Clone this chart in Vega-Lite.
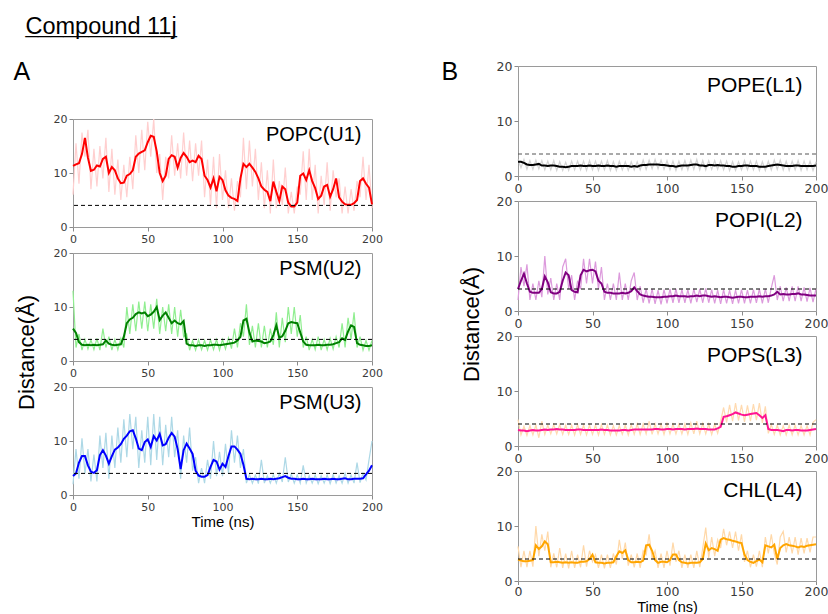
{
"$schema": "https://vega.github.io/schema/vega-lite/v6.json",
"padding": {"left": 12, "top": 14, "right": 2, "bottom": 0},
"title": {"text": "Compound 11j", "anchor": "start", "frame": "bounds", "fontSize": 23.5, "dx": 13, "offset": 20.5, "subtitle": "____________", "subtitleFontSize": 22.7, "subtitleFont": "Liberation Sans", "subtitleColor": "#000", "subtitlePadding": -23},
"config": {
  "view": {"stroke": "#9a9a9a", "strokeWidth": 1},
  "axis": {"grid": false, "domain": false, "tickColor": "#8a8a8a", "tickSize": 4, "labelColor": "#3a3a3a", "labelFont": "DejaVu Sans", "labelPadding": 2, "labelFlush": false, "labelOverlap": false, "titleFont": "Liberation Sans", "titleFontWeight": "normal", "titleColor": "#000"},
  "title": {"font": "Liberation Sans", "fontWeight": "normal", "color": "#000"}
},
"datasets": {
"U1": [{"t":0,"m":11.3,"r":6},{"t":2,"m":11.6,"r":15.5},{"t":4,"m":11.8,"r":8},{"t":6,"m":13.5,"r":17.5},{"t":8,"m":16.5,"r":13},{"t":10,"m":12.8,"r":18},{"t":12,"m":10.4,"r":7},{"t":14,"m":10.6,"r":14.5},{"t":16,"m":11.4,"r":7.5},{"t":18,"m":11.2,"r":15},{"t":20,"m":12.6,"r":9},{"t":22,"m":13,"r":16.5},{"t":24,"m":10,"r":6.5},{"t":26,"m":11.1,"r":14.5},{"t":28,"m":10.5,"r":6},{"t":30,"m":9,"r":12.5},{"t":32,"m":8.1,"r":5},{"t":34,"m":8.2,"r":11.5},{"t":36,"m":9.5,"r":5.5},{"t":38,"m":9.8,"r":13},{"t":40,"m":10.5,"r":7},{"t":42,"m":13,"r":17},{"t":44,"m":13.6,"r":10},{"t":46,"m":13.9,"r":18},{"t":48,"m":14.2,"r":10.5},{"t":50,"m":15.7,"r":19.5},{"t":52,"m":16.9,"r":13},{"t":54,"m":16.7,"r":20},{"t":56,"m":14,"r":10},{"t":58,"m":10,"r":13.5},{"t":60,"m":8.5,"r":5},{"t":62,"m":9.5,"r":13},{"t":64,"m":12.6,"r":9},{"t":66,"m":13.3,"r":17},{"t":68,"m":13,"r":9.5},{"t":70,"m":11,"r":15.5},{"t":72,"m":12.8,"r":9},{"t":74,"m":13.7,"r":17.5},{"t":76,"m":13,"r":9.5},{"t":78,"m":12,"r":16},{"t":80,"m":12.3,"r":8.5},{"t":82,"m":12,"r":15.5},{"t":84,"m":13.2,"r":9.5},{"t":86,"m":12.6,"r":16},{"t":88,"m":9.5,"r":5.5},{"t":90,"m":8.7,"r":12.5},{"t":92,"m":7.3,"r":4},{"t":94,"m":9,"r":13},{"t":96,"m":6.6,"r":3.5},{"t":98,"m":9.3,"r":13.5},{"t":100,"m":8.7,"r":5},{"t":102,"m":6.8,"r":10.5},{"t":104,"m":5.8,"r":3.5},{"t":106,"m":5.4,"r":9},{"t":108,"m":5.2,"r":3},{"t":110,"m":4.8,"r":8.5},{"t":112,"m":9,"r":5.5},{"t":114,"m":11.7,"r":16.5},{"t":116,"m":11.1,"r":7},{"t":118,"m":11.7,"r":16},{"t":120,"m":11,"r":7.5},{"t":122,"m":10.2,"r":14.5},{"t":124,"m":9,"r":5},{"t":126,"m":7.5,"r":12},{"t":128,"m":6.9,"r":3.5},{"t":130,"m":6.5,"r":10.5},{"t":132,"m":4.8,"r":2.5},{"t":134,"m":8.4,"r":12.5},{"t":136,"m":6.5,"r":3.5},{"t":138,"m":4.8,"r":8.5},{"t":140,"m":7.5,"r":4},{"t":142,"m":7,"r":11},{"t":144,"m":4.5,"r":2.5},{"t":146,"m":3.8,"r":6.5},{"t":148,"m":3.8,"r":2.5},{"t":150,"m":4.5,"r":7.5},{"t":152,"m":9.5,"r":6},{"t":154,"m":9.9,"r":14},{"t":156,"m":8.7,"r":5},{"t":158,"m":10.5,"r":14.5},{"t":160,"m":8.5,"r":5},{"t":162,"m":7.2,"r":11.5},{"t":164,"m":5.2,"r":2.5},{"t":166,"m":5.8,"r":9.5},{"t":168,"m":7.5,"r":4},{"t":170,"m":7.8,"r":12},{"t":172,"m":5.6,"r":3},{"t":174,"m":7,"r":10.5},{"t":176,"m":9,"r":5.5},{"t":178,"m":5.5,"r":9},{"t":180,"m":4.7,"r":2.5},{"t":182,"m":4.2,"r":7.5},{"t":184,"m":4.1,"r":2.5},{"t":186,"m":4.1,"r":7},{"t":188,"m":4.4,"r":3},{"t":190,"m":5,"r":8.5},{"t":192,"m":8.5,"r":5.5},{"t":194,"m":9,"r":13},{"t":196,"m":8,"r":5},{"t":198,"m":7.3,"r":11.5},{"t":200,"m":4.2,"r":3.5}],
"U2": [{"t":0,"m":6,"r":13},{"t":2,"m":5.2,"r":2.5},{"t":4,"m":3.5,"r":5},{"t":6,"m":3,"r":2},{"t":8,"m":2.9,"r":4},{"t":10,"m":3,"r":2.2},{"t":12,"m":2.9,"r":3.9},{"t":14,"m":3,"r":2.1},{"t":16,"m":2.9,"r":4.2},{"t":18,"m":3,"r":2},{"t":20,"m":3.1,"r":6},{"t":22,"m":3.8,"r":2.5},{"t":24,"m":3.2,"r":4.5},{"t":26,"m":3,"r":2},{"t":28,"m":2.9,"r":4},{"t":30,"m":3,"r":2.1},{"t":32,"m":3.1,"r":4.2},{"t":34,"m":4.5,"r":2.5},{"t":36,"m":7,"r":10},{"t":38,"m":7.7,"r":5},{"t":40,"m":8,"r":10.5},{"t":42,"m":8.7,"r":5.5},{"t":44,"m":9,"r":11},{"t":46,"m":8.8,"r":6},{"t":48,"m":9,"r":11},{"t":50,"m":8.3,"r":5.5},{"t":52,"m":8.6,"r":10.5},{"t":54,"m":9.1,"r":6},{"t":56,"m":10,"r":11.5},{"t":58,"m":7.6,"r":5},{"t":60,"m":8.4,"r":10},{"t":62,"m":9,"r":5.5},{"t":64,"m":8,"r":10.5},{"t":66,"m":7,"r":5},{"t":68,"m":7.5,"r":10},{"t":70,"m":7,"r":4.5},{"t":72,"m":6.8,"r":9.5},{"t":74,"m":7.4,"r":4.5},{"t":76,"m":3.2,"r":5},{"t":78,"m":2.9,"r":2},{"t":80,"m":2.9,"r":3.8},{"t":82,"m":2.8,"r":2},{"t":84,"m":2.9,"r":3.9},{"t":86,"m":2.9,"r":2.1},{"t":88,"m":2.8,"r":3.8},{"t":90,"m":2.9,"r":2},{"t":92,"m":2.9,"r":3.9},{"t":94,"m":3,"r":2.1},{"t":96,"m":3,"r":4},{"t":98,"m":2.9,"r":2},{"t":100,"m":3,"r":4},{"t":102,"m":3.1,"r":2.2},{"t":104,"m":3.2,"r":4.3},{"t":106,"m":3.3,"r":2.3},{"t":108,"m":3.4,"r":6},{"t":110,"m":3.8,"r":2.5},{"t":112,"m":4.5,"r":7},{"t":114,"m":7.5,"r":4.5},{"t":116,"m":7.8,"r":10.5},{"t":118,"m":5.3,"r":3},{"t":120,"m":3.6,"r":6.5},{"t":122,"m":3.8,"r":2.5},{"t":124,"m":3.7,"r":7},{"t":126,"m":3.6,"r":2.5},{"t":128,"m":3.3,"r":6.5},{"t":130,"m":3.4,"r":2.5},{"t":132,"m":3.6,"r":6},{"t":134,"m":4.8,"r":3},{"t":136,"m":6.6,"r":9},{"t":138,"m":4.3,"r":2.5},{"t":140,"m":4.6,"r":8},{"t":142,"m":5.6,"r":3.5},{"t":144,"m":7,"r":10},{"t":146,"m":7.2,"r":5},{"t":148,"m":7.1,"r":10},{"t":150,"m":7,"r":4.5},{"t":152,"m":5.3,"r":8.5},{"t":154,"m":3.6,"r":2.5},{"t":156,"m":3,"r":4.5},{"t":158,"m":2.9,"r":2},{"t":160,"m":2.9,"r":4},{"t":162,"m":2.9,"r":2.1},{"t":164,"m":3,"r":4.5},{"t":166,"m":2.9,"r":2},{"t":168,"m":2.9,"r":4},{"t":170,"m":3,"r":2.1},{"t":172,"m":3,"r":4.2},{"t":174,"m":3.1,"r":2.2},{"t":176,"m":3.3,"r":4.5},{"t":178,"m":3.5,"r":2.5},{"t":180,"m":4.2,"r":7},{"t":182,"m":3.9,"r":2.5},{"t":184,"m":5.5,"r":8},{"t":186,"m":6.6,"r":4},{"t":188,"m":6.3,"r":9},{"t":190,"m":3.3,"r":2.5},{"t":192,"m":3,"r":4.5},{"t":194,"m":2.9,"r":2},{"t":196,"m":2.8,"r":3.8},{"t":198,"m":2.8,"r":2},{"t":200,"m":2.9,"r":3.8}],
"U3": [{"t":0,"m":3.5,"r":2},{"t":2,"m":4,"r":8.5},{"t":4,"m":6,"r":3},{"t":6,"m":7.2,"r":10.5},{"t":8,"m":7.2,"r":4},{"t":10,"m":5.5,"r":8.5},{"t":12,"m":4.3,"r":2.5},{"t":14,"m":4.1,"r":7.5},{"t":16,"m":4.6,"r":2.5},{"t":18,"m":7.4,"r":11},{"t":20,"m":8.3,"r":5},{"t":22,"m":7.3,"r":11.5},{"t":24,"m":5.8,"r":3},{"t":26,"m":7.2,"r":11},{"t":28,"m":8.4,"r":5},{"t":30,"m":8.8,"r":12.5},{"t":32,"m":9.4,"r":6},{"t":34,"m":10.4,"r":14},{"t":36,"m":11,"r":7},{"t":38,"m":11.8,"r":15},{"t":40,"m":12,"r":8.5},{"t":42,"m":10.5,"r":14.5},{"t":44,"m":8.6,"r":5},{"t":46,"m":8.3,"r":12},{"t":48,"m":9.8,"r":6},{"t":50,"m":10.3,"r":14.5},{"t":52,"m":8.9,"r":5.5},{"t":54,"m":10.9,"r":15},{"t":56,"m":10.1,"r":6.5},{"t":58,"m":11.3,"r":14.5},{"t":60,"m":9.2,"r":5.5},{"t":62,"m":9.4,"r":13},{"t":64,"m":10.6,"r":7},{"t":66,"m":11.5,"r":14.5},{"t":68,"m":10.8,"r":7},{"t":70,"m":8.5,"r":12},{"t":72,"m":4.8,"r":3},{"t":74,"m":8.3,"r":11},{"t":76,"m":9.5,"r":6},{"t":78,"m":8.6,"r":12.5},{"t":80,"m":7.6,"r":4.5},{"t":82,"m":4.5,"r":7},{"t":84,"m":3.6,"r":2.2},{"t":86,"m":3.4,"r":5},{"t":88,"m":3.4,"r":2.2},{"t":90,"m":3.7,"r":6.5},{"t":92,"m":5.2,"r":3},{"t":94,"m":6.5,"r":10},{"t":96,"m":6.2,"r":3.5},{"t":98,"m":4.7,"r":8},{"t":100,"m":5.8,"r":3.5},{"t":102,"m":5.2,"r":9.5},{"t":104,"m":7.2,"r":4},{"t":106,"m":9,"r":12},{"t":108,"m":9,"r":6},{"t":110,"m":8.4,"r":11},{"t":112,"m":7.6,"r":5},{"t":114,"m":5.6,"r":8.5},{"t":116,"m":3,"r":2.2},{"t":118,"m":2.9,"r":3.8},{"t":120,"m":3,"r":2.2},{"t":122,"m":2.9,"r":3.7},{"t":124,"m":2.9,"r":2.1},{"t":126,"m":3,"r":6.5},{"t":128,"m":2.9,"r":2.2},{"t":130,"m":2.9,"r":3.6},{"t":132,"m":3,"r":2.2},{"t":134,"m":2.9,"r":3.8},{"t":136,"m":3,"r":2.2},{"t":138,"m":3.1,"r":4},{"t":140,"m":3.3,"r":2.4},{"t":142,"m":3.5,"r":7},{"t":144,"m":3.2,"r":2.4},{"t":146,"m":3,"r":3.9},{"t":148,"m":3,"r":2.2},{"t":150,"m":2.9,"r":3.7},{"t":152,"m":2.9,"r":2.2},{"t":154,"m":3,"r":5.5},{"t":156,"m":2.9,"r":2.2},{"t":158,"m":2.9,"r":3.6},{"t":160,"m":3,"r":2.2},{"t":162,"m":2.9,"r":3.7},{"t":164,"m":2.9,"r":2.1},{"t":166,"m":2.9,"r":3.6},{"t":168,"m":3,"r":2.2},{"t":170,"m":2.9,"r":3.7},{"t":172,"m":2.9,"r":2.1},{"t":174,"m":3,"r":3.8},{"t":176,"m":2.9,"r":2.2},{"t":178,"m":2.9,"r":3.6},{"t":180,"m":3,"r":2.2},{"t":182,"m":3.1,"r":4},{"t":184,"m":2.9,"r":2.2},{"t":186,"m":2.9,"r":3.7},{"t":188,"m":3,"r":2.2},{"t":190,"m":3,"r":6},{"t":192,"m":3,"r":2.3},{"t":194,"m":3.1,"r":4},{"t":196,"m":3.8,"r":2.8},{"t":198,"m":4.5,"r":6.5},{"t":200,"m":5.5,"r":10}],
"L1": [{"t":0,"m":2.6,"r":3},{"t":2,"m":2.6,"r":1.5},{"t":4,"m":2.4,"r":3},{"t":6,"m":2.1,"r":1.2},{"t":8,"m":2,"r":2.8},{"t":10,"m":2,"r":1.2},{"t":12,"m":2.1,"r":2.9},{"t":14,"m":2.2,"r":1.3},{"t":16,"m":1.9,"r":2.8},{"t":18,"m":1.9,"r":1.1},{"t":20,"m":1.8,"r":2.7},{"t":22,"m":1.9,"r":1.1},{"t":24,"m":1.9,"r":2.8},{"t":26,"m":1.8,"r":1},{"t":28,"m":1.7,"r":2.6},{"t":30,"m":1.7,"r":1},{"t":32,"m":1.6,"r":2.5},{"t":34,"m":1.7,"r":1},{"t":36,"m":1.8,"r":2.7},{"t":38,"m":1.8,"r":1.1},{"t":40,"m":1.8,"r":2.7},{"t":42,"m":1.9,"r":1.1},{"t":44,"m":1.8,"r":2.7},{"t":46,"m":1.8,"r":1},{"t":48,"m":1.9,"r":2.8},{"t":50,"m":1.8,"r":1.1},{"t":52,"m":1.8,"r":2.7},{"t":54,"m":1.9,"r":1},{"t":56,"m":1.8,"r":2.7},{"t":58,"m":1.8,"r":1.1},{"t":60,"m":1.9,"r":2.8},{"t":62,"m":1.8,"r":1},{"t":64,"m":1.8,"r":2.6},{"t":66,"m":1.7,"r":1},{"t":68,"m":1.8,"r":2.7},{"t":70,"m":1.8,"r":1.1},{"t":72,"m":1.8,"r":2.6},{"t":74,"m":1.8,"r":1},{"t":76,"m":1.7,"r":2.6},{"t":78,"m":1.8,"r":1.1},{"t":80,"m":1.7,"r":2.6},{"t":82,"m":1.9,"r":1.1},{"t":84,"m":2,"r":2.9},{"t":86,"m":2,"r":1.2},{"t":88,"m":2.1,"r":2.9},{"t":90,"m":2.1,"r":1.3},{"t":92,"m":2.1,"r":3},{"t":94,"m":2.1,"r":1.3},{"t":96,"m":2,"r":2.9},{"t":98,"m":2,"r":1.2},{"t":100,"m":1.9,"r":2.8},{"t":102,"m":1.8,"r":1.1},{"t":104,"m":1.8,"r":2.7},{"t":106,"m":1.7,"r":1},{"t":108,"m":1.8,"r":2.7},{"t":110,"m":1.9,"r":1.1},{"t":112,"m":1.9,"r":2.8},{"t":114,"m":1.9,"r":1.1},{"t":116,"m":2,"r":2.9},{"t":118,"m":2.1,"r":1.2},{"t":120,"m":2.1,"r":3},{"t":122,"m":1.9,"r":1.1},{"t":124,"m":1.9,"r":2.8},{"t":126,"m":1.8,"r":1.1},{"t":128,"m":2,"r":2.8},{"t":130,"m":2,"r":1.2},{"t":132,"m":1.9,"r":2.8},{"t":134,"m":2,"r":1.2},{"t":136,"m":1.9,"r":2.8},{"t":138,"m":1.9,"r":1.1},{"t":140,"m":1.8,"r":2.7},{"t":142,"m":1.8,"r":1},{"t":144,"m":1.7,"r":2.6},{"t":146,"m":1.7,"r":1},{"t":148,"m":1.8,"r":2.6},{"t":150,"m":1.8,"r":1.1},{"t":152,"m":1.9,"r":2.8},{"t":154,"m":1.9,"r":1.1},{"t":156,"m":1.8,"r":2.7},{"t":158,"m":1.8,"r":1.1},{"t":160,"m":1.8,"r":2.7},{"t":162,"m":1.7,"r":1},{"t":164,"m":1.7,"r":2.6},{"t":166,"m":1.7,"r":1},{"t":168,"m":1.8,"r":2.7},{"t":170,"m":1.9,"r":1.1},{"t":172,"m":2,"r":2.9},{"t":174,"m":2.1,"r":1.2},{"t":176,"m":2,"r":2.9},{"t":178,"m":1.9,"r":1.1},{"t":180,"m":1.8,"r":2.7},{"t":182,"m":1.8,"r":1},{"t":184,"m":1.8,"r":2.7},{"t":186,"m":1.9,"r":1.1},{"t":188,"m":1.9,"r":2.8},{"t":190,"m":1.8,"r":1},{"t":192,"m":1.8,"r":2.7},{"t":194,"m":1.8,"r":1.1},{"t":196,"m":1.8,"r":2.7},{"t":198,"m":1.8,"r":1},{"t":200,"m":1.9,"r":2.6}],
"L2": [{"t":0,"m":4,"r":2},{"t":2,"m":5.5,"r":8},{"t":4,"m":6.8,"r":4.5},{"t":6,"m":5,"r":8.5},{"t":8,"m":3.5,"r":2},{"t":10,"m":3.3,"r":5},{"t":12,"m":3.3,"r":2},{"t":14,"m":3.3,"r":5.5},{"t":16,"m":4,"r":2.5},{"t":18,"m":6.3,"r":10},{"t":20,"m":5.2,"r":3},{"t":22,"m":3.4,"r":6},{"t":24,"m":3.2,"r":2},{"t":26,"m":3.2,"r":5},{"t":28,"m":3.5,"r":2},{"t":30,"m":5.5,"r":8},{"t":32,"m":7,"r":9.5},{"t":34,"m":6.5,"r":4},{"t":36,"m":3.8,"r":6.5},{"t":38,"m":3.5,"r":2},{"t":40,"m":3.4,"r":5.5},{"t":42,"m":6.5,"r":4},{"t":44,"m":7.5,"r":9.5},{"t":46,"m":7.2,"r":5},{"t":48,"m":7.4,"r":9.5},{"t":50,"m":7.5,"r":5},{"t":52,"m":7.2,"r":9},{"t":54,"m":5.5,"r":4},{"t":56,"m":5,"r":8},{"t":58,"m":3.5,"r":2},{"t":60,"m":3.3,"r":5},{"t":62,"m":3.3,"r":2},{"t":64,"m":3.2,"r":5},{"t":66,"m":3.2,"r":2},{"t":68,"m":3.2,"r":7},{"t":70,"m":3.3,"r":2},{"t":72,"m":3.2,"r":5},{"t":74,"m":3.3,"r":2},{"t":76,"m":3.6,"r":5.5},{"t":78,"m":4.3,"r":7},{"t":80,"m":3.6,"r":2},{"t":82,"m":3,"r":4.5},{"t":84,"m":2.8,"r":1.5},{"t":86,"m":2.7,"r":4},{"t":88,"m":2.6,"r":1.4},{"t":90,"m":2.6,"r":4},{"t":92,"m":2.5,"r":1.3},{"t":94,"m":2.5,"r":3.8},{"t":96,"m":2.5,"r":1.2},{"t":98,"m":2.6,"r":3.9},{"t":100,"m":2.6,"r":1.4},{"t":102,"m":2.7,"r":4},{"t":104,"m":2.7,"r":1.5},{"t":106,"m":2.8,"r":4},{"t":108,"m":2.7,"r":1.5},{"t":110,"m":2.7,"r":3.9},{"t":112,"m":2.7,"r":1.5},{"t":114,"m":2.6,"r":3.9},{"t":116,"m":2.7,"r":1.4},{"t":118,"m":2.7,"r":4},{"t":120,"m":2.8,"r":1.6},{"t":122,"m":2.7,"r":4},{"t":124,"m":2.8,"r":1.5},{"t":126,"m":2.8,"r":4.1},{"t":128,"m":2.7,"r":1.5},{"t":130,"m":2.6,"r":3.9},{"t":132,"m":2.7,"r":1.4},{"t":134,"m":2.6,"r":3.8},{"t":136,"m":2.5,"r":1.3},{"t":138,"m":2.6,"r":3.9},{"t":140,"m":2.6,"r":1.4},{"t":142,"m":2.5,"r":3.8},{"t":144,"m":2.4,"r":1.3},{"t":146,"m":2.5,"r":3.8},{"t":148,"m":2.6,"r":1.4},{"t":150,"m":2.6,"r":3.9},{"t":152,"m":2.5,"r":1.4},{"t":154,"m":2.5,"r":3.8},{"t":156,"m":2.6,"r":1.4},{"t":158,"m":2.6,"r":3.9},{"t":160,"m":2.6,"r":1.5},{"t":162,"m":2.7,"r":4},{"t":164,"m":2.6,"r":1.4},{"t":166,"m":2.7,"r":4},{"t":168,"m":2.7,"r":1.5},{"t":170,"m":2.8,"r":4.2},{"t":172,"m":3,"r":6.5},{"t":174,"m":3.5,"r":2},{"t":176,"m":3,"r":4.5},{"t":178,"m":3.1,"r":1.8},{"t":180,"m":3,"r":4.3},{"t":182,"m":3,"r":1.8},{"t":184,"m":3.1,"r":4.5},{"t":186,"m":3.1,"r":1.8},{"t":188,"m":3.2,"r":4.5},{"t":190,"m":3,"r":1.8},{"t":192,"m":3,"r":4.3},{"t":194,"m":2.9,"r":1.7},{"t":196,"m":2.8,"r":4.2},{"t":198,"m":2.8,"r":1.6},{"t":200,"m":2.8,"r":4}],
"L3": [{"t":0,"m":2.9,"r":4.8},{"t":2,"m":2.8,"r":2},{"t":4,"m":2.8,"r":3.6},{"t":6,"m":2.7,"r":1.9},{"t":8,"m":2.8,"r":3.7},{"t":10,"m":2.9,"r":2},{"t":12,"m":2.8,"r":3.8},{"t":14,"m":2.8,"r":1.5},{"t":16,"m":2.9,"r":4.5},{"t":18,"m":3,"r":2.1},{"t":20,"m":2.9,"r":3.8},{"t":22,"m":3,"r":2.2},{"t":24,"m":3,"r":3.9},{"t":26,"m":3.1,"r":2.2},{"t":28,"m":3,"r":3.9},{"t":30,"m":3,"r":2.1},{"t":32,"m":2.9,"r":3.8},{"t":34,"m":2.9,"r":2.1},{"t":36,"m":2.9,"r":3.8},{"t":38,"m":2.9,"r":2},{"t":40,"m":3,"r":3.9},{"t":42,"m":3,"r":2.1},{"t":44,"m":2.9,"r":3.8},{"t":46,"m":2.9,"r":2},{"t":48,"m":2.9,"r":3.8},{"t":50,"m":2.9,"r":2.1},{"t":52,"m":2.9,"r":3.8},{"t":54,"m":2.9,"r":2},{"t":56,"m":3,"r":3.9},{"t":58,"m":2.9,"r":2.1},{"t":60,"m":2.9,"r":3.8},{"t":62,"m":2.8,"r":2},{"t":64,"m":2.8,"r":3.7},{"t":66,"m":2.8,"r":2},{"t":68,"m":2.8,"r":3.7},{"t":70,"m":2.9,"r":2.1},{"t":72,"m":2.9,"r":3.8},{"t":74,"m":2.8,"r":2},{"t":76,"m":2.9,"r":3.9},{"t":78,"m":3,"r":2.1},{"t":80,"m":3,"r":4},{"t":82,"m":3,"r":2.1},{"t":84,"m":3,"r":4},{"t":86,"m":3,"r":2.2},{"t":88,"m":3,"r":4.5},{"t":90,"m":3,"r":2.1},{"t":92,"m":3.1,"r":4},{"t":94,"m":3.1,"r":2.2},{"t":96,"m":3,"r":4},{"t":98,"m":3,"r":2.1},{"t":100,"m":3.1,"r":4.1},{"t":102,"m":3.1,"r":2.2},{"t":104,"m":3,"r":4},{"t":106,"m":3.1,"r":2.2},{"t":108,"m":3.1,"r":4},{"t":110,"m":3.1,"r":2.2},{"t":112,"m":3,"r":4},{"t":114,"m":3.1,"r":2.1},{"t":116,"m":3.1,"r":4.2},{"t":118,"m":3.1,"r":2.2},{"t":120,"m":3.2,"r":4.5},{"t":122,"m":3.1,"r":2.2},{"t":124,"m":3.1,"r":4.1},{"t":126,"m":3.1,"r":2.2},{"t":128,"m":3,"r":4},{"t":130,"m":3,"r":2.1},{"t":132,"m":3,"r":4},{"t":134,"m":3.2,"r":2.3},{"t":136,"m":3.5,"r":4.5},{"t":138,"m":5.3,"r":7},{"t":140,"m":5.4,"r":4.3},{"t":142,"m":5.6,"r":7.5},{"t":144,"m":5.8,"r":4.5},{"t":146,"m":6.1,"r":7.8},{"t":148,"m":5.9,"r":4.6},{"t":150,"m":5.7,"r":7.5},{"t":152,"m":5.6,"r":4.4},{"t":154,"m":5.7,"r":7.4},{"t":156,"m":5.8,"r":4.5},{"t":158,"m":5.9,"r":7.6},{"t":160,"m":6,"r":4.7},{"t":162,"m":5.6,"r":7.8},{"t":164,"m":5.1,"r":4.2},{"t":166,"m":5.6,"r":7.2},{"t":168,"m":3.1,"r":2.3},{"t":170,"m":2.9,"r":3.9},{"t":172,"m":2.9,"r":2.1},{"t":174,"m":2.9,"r":3.8},{"t":176,"m":2.8,"r":2},{"t":178,"m":2.7,"r":3.7},{"t":180,"m":2.9,"r":2},{"t":182,"m":2.9,"r":3.8},{"t":184,"m":2.8,"r":2},{"t":186,"m":2.9,"r":3.8},{"t":188,"m":2.9,"r":2},{"t":190,"m":2.8,"r":3.7},{"t":192,"m":2.8,"r":2},{"t":194,"m":2.8,"r":3.7},{"t":196,"m":2.9,"r":2},{"t":198,"m":3,"r":4.3},{"t":200,"m":3.1,"r":4.8}],
"L4": [{"t":0,"m":3.9,"r":6.3},{"t":2,"m":3.7,"r":2.5},{"t":4,"m":3.6,"r":5.5},{"t":6,"m":3.6,"r":2.5},{"t":8,"m":3.7,"r":5.5},{"t":10,"m":3.8,"r":2.6},{"t":12,"m":6.5,"r":10},{"t":14,"m":5.8,"r":4.5},{"t":16,"m":6.3,"r":8.5},{"t":18,"m":7.2,"r":5.5},{"t":20,"m":6.7,"r":9},{"t":22,"m":3.4,"r":2.5},{"t":24,"m":3.4,"r":5},{"t":26,"m":3.5,"r":2.5},{"t":28,"m":3.4,"r":6},{"t":30,"m":3.3,"r":2.4},{"t":32,"m":3.4,"r":5},{"t":34,"m":3.3,"r":2.3},{"t":36,"m":3.4,"r":5.5},{"t":38,"m":3.3,"r":2.4},{"t":40,"m":3.3,"r":4.8},{"t":42,"m":3.5,"r":2.5},{"t":44,"m":3.5,"r":6.5},{"t":46,"m":3.6,"r":2.6},{"t":48,"m":4,"r":5.5},{"t":50,"m":4.8,"r":3.5},{"t":52,"m":3.4,"r":4.8},{"t":54,"m":3.3,"r":2.4},{"t":56,"m":3.3,"r":4.8},{"t":58,"m":3.2,"r":2.3},{"t":60,"m":3.3,"r":4.8},{"t":62,"m":3.3,"r":2.4},{"t":64,"m":3.4,"r":5},{"t":66,"m":4.5,"r":3},{"t":68,"m":5.4,"r":7.5},{"t":70,"m":5.1,"r":4},{"t":72,"m":5.6,"r":7},{"t":74,"m":3.8,"r":2.8},{"t":76,"m":3.4,"r":4.8},{"t":78,"m":3.4,"r":2.5},{"t":80,"m":3.5,"r":5},{"t":82,"m":3.4,"r":2.4},{"t":84,"m":3.7,"r":5.5},{"t":86,"m":6.5,"r":4.8},{"t":88,"m":6.6,"r":8.5},{"t":90,"m":5.5,"r":4},{"t":92,"m":3.8,"r":5.5},{"t":94,"m":3.3,"r":2.4},{"t":96,"m":3.5,"r":5},{"t":98,"m":3.5,"r":2.4},{"t":100,"m":3.4,"r":5.5},{"t":102,"m":3.8,"r":2.8},{"t":104,"m":4.8,"r":7},{"t":106,"m":4.8,"r":3.5},{"t":108,"m":3.8,"r":5.5},{"t":110,"m":3.4,"r":2.4},{"t":112,"m":3.3,"r":4.8},{"t":114,"m":3.2,"r":2.4},{"t":116,"m":3.3,"r":4.8},{"t":118,"m":3.3,"r":2.4},{"t":120,"m":3.3,"r":5.5},{"t":122,"m":3.4,"r":2.5},{"t":124,"m":4,"r":6},{"t":126,"m":6.8,"r":9.7},{"t":128,"m":5.6,"r":4.2},{"t":130,"m":6,"r":8},{"t":132,"m":5.8,"r":4.5},{"t":134,"m":5.5,"r":7.5},{"t":136,"m":7.5,"r":6},{"t":138,"m":7.8,"r":9.5},{"t":140,"m":7.6,"r":6.5},{"t":142,"m":7.5,"r":9},{"t":144,"m":7.3,"r":6},{"t":146,"m":7.2,"r":9},{"t":148,"m":7,"r":5.5},{"t":150,"m":6.9,"r":8.5},{"t":152,"m":4.8,"r":3.5},{"t":154,"m":3.8,"r":5.5},{"t":156,"m":3.5,"r":2.5},{"t":158,"m":3.3,"r":4.8},{"t":160,"m":3.6,"r":2.6},{"t":162,"m":3.9,"r":5.5},{"t":164,"m":3.4,"r":2.5},{"t":166,"m":6.5,"r":8},{"t":168,"m":6.3,"r":5},{"t":170,"m":6.1,"r":8.5},{"t":172,"m":6.6,"r":5},{"t":174,"m":4,"r":3},{"t":176,"m":6,"r":8},{"t":178,"m":6.5,"r":9},{"t":180,"m":6.7,"r":5.2},{"t":182,"m":6.5,"r":8},{"t":184,"m":6.4,"r":5},{"t":186,"m":6.3,"r":8},{"t":188,"m":6.1,"r":4.8},{"t":190,"m":6.3,"r":7.8},{"t":192,"m":6.2,"r":5},{"t":194,"m":6.4,"r":7.8},{"t":196,"m":6.5,"r":5.2},{"t":198,"m":6.6,"r":8},{"t":200,"m":6.7,"r":8}]
},
"spacing": 57,
"hconcat": [
 {"vconcat": [
  {"width": 299, "height": 27, "data": {"values": []}, "mark": "point", "view": {"stroke": null}},
  {"width": 299, "height": 108, "data": {"name": "U1"},
   "layer": [
    {"mark": {"type": "line", "color": "#ffcfcf", "strokeWidth": 1.2},
     "encoding": {"x": {"field": "t", "type": "quantitative", "scale": {"domain": [0, 200]}, "axis": {"values": [0, 50, 100, 150, 200], "title": null, "labelFontSize": 11, "labelOverlap": false}},
                  "y": {"field": "r", "type": "quantitative", "scale": {"domain": [0, 20]}, "axis": {"values": [0, 5, 10, 15, 20], "labelFontSize": 11, "labelOverlap": false, "title": "A", "titleFontSize": 25, "titleAngle": 0, "titleAlign": "left", "titleBaseline": "alphabetic", "titleX": -60, "titleY": -40}}}},
    {"mark": {"type": "line", "color": "#ff0000", "strokeWidth": 2}, "encoding": {"x": {"field": "t", "type": "quantitative"}, "y": {"field": "m", "type": "quantitative"}}},
    {"data": {"values": [{}]}, "mark": {"type": "rule", "color": "#000", "strokeDash": [4, 3], "strokeWidth": 1}, "encoding": {"y": {"datum": 4}}},
    {"data": {"values": [{}]}, "mark": {"type": "text", "text": "POPC(U1)", "align": "right", "baseline": "alphabetic", "fontSize": 20, "font": "Liberation Sans"}, "encoding": {"x": {"datum": 193}, "y": {"datum": 16}}}
   ]},
  {"width": 299, "height": 108, "data": {"name": "U2"},
   "layer": [
    {"mark": {"type": "line", "color": "#90ee90", "strokeWidth": 1.2},
     "encoding": {"x": {"field": "t", "type": "quantitative", "scale": {"domain": [0, 200]}, "axis": {"values": [0, 50, 100, 150, 200], "title": null, "labelFontSize": 11, "labelOverlap": false}},
                  "y": {"field": "r", "type": "quantitative", "scale": {"domain": [0, 20]}, "axis": {"values": [0, 5, 10, 15, 20], "title": "Distance(Å)", "titleFontSize": 22, "titleX": -35, "titleY": 99, "titleAngle": -90, "titleBaseline": "bottom", "titleAlign": "center", "labelFontSize": 11, "labelOverlap": false}}}},
    {"mark": {"type": "line", "color": "#008000", "strokeWidth": 2}, "encoding": {"x": {"field": "t", "type": "quantitative"}, "y": {"field": "m", "type": "quantitative"}}},
    {"data": {"values": [{}]}, "mark": {"type": "rule", "color": "#000", "strokeDash": [4, 3], "strokeWidth": 1}, "encoding": {"y": {"datum": 4}}},
    {"data": {"values": [{}]}, "mark": {"type": "text", "text": "PSM(U2)", "align": "right", "baseline": "alphabetic", "fontSize": 20, "font": "Liberation Sans"}, "encoding": {"x": {"datum": 193}, "y": {"datum": 16}}}
   ]},
  {"width": 299, "height": 108, "data": {"name": "U3"},
   "layer": [
    {"mark": {"type": "line", "color": "#add8e6", "strokeWidth": 1.2},
     "encoding": {"x": {"field": "t", "type": "quantitative", "scale": {"domain": [0, 200]}, "axis": {"values": [0, 50, 100, 150, 200], "title": "Time (ns)", "titleFontSize": 15, "titlePadding": 2, "labelFontSize": 11, "labelOverlap": false}},
                  "y": {"field": "r", "type": "quantitative", "scale": {"domain": [0, 20]}, "axis": {"values": [0, 5, 10, 15, 20], "title": null, "labelFontSize": 11, "labelOverlap": false}}}},
    {"mark": {"type": "line", "color": "#0000ff", "strokeWidth": 2}, "encoding": {"x": {"field": "t", "type": "quantitative"}, "y": {"field": "m", "type": "quantitative"}}},
    {"data": {"values": [{}]}, "mark": {"type": "rule", "color": "#000", "strokeDash": [4, 3], "strokeWidth": 1}, "encoding": {"y": {"datum": 4}}},
    {"data": {"values": [{}]}, "mark": {"type": "text", "text": "PSM(U3)", "align": "right", "baseline": "alphabetic", "fontSize": 20, "font": "Liberation Sans"}, "encoding": {"x": {"datum": 193}, "y": {"datum": 16}}}
   ]}
 ], "spacing": 26, "bounds": "flush"},
 {"vconcat": [
  {"width": 298, "height": 110, "data": {"name": "L1"},
   "layer": [
    {"mark": {"type": "line", "color": "#d3d3d3", "strokeWidth": 1.2},
     "encoding": {"x": {"field": "t", "type": "quantitative", "scale": {"domain": [0, 200]}, "axis": {"values": [0, 50, 100, 150, 200], "title": null, "labelFontSize": 12.5, "labelOverlap": false}},
                  "y": {"field": "r", "type": "quantitative", "scale": {"domain": [0, 20]}, "axis": {"values": [0, 5, 10, 15, 20], "labelFontSize": 12.5, "labelOverlap": false, "title": "B", "titleFontSize": 25, "titleAngle": 0, "titleAlign": "left", "titleBaseline": "alphabetic", "titleX": -77, "titleY": 13}}}},
    {"mark": {"type": "line", "color": "#000000", "strokeWidth": 2}, "encoding": {"x": {"field": "t", "type": "quantitative"}, "y": {"field": "m", "type": "quantitative"}}},
    {"data": {"values": [{}]}, "mark": {"type": "rule", "color": "#555", "strokeDash": [4, 3], "strokeWidth": 1}, "encoding": {"y": {"datum": 4}}},
    {"data": {"values": [{}]}, "mark": {"type": "text", "text": "POPE(L1)", "align": "right", "baseline": "alphabetic", "fontSize": 21, "font": "Liberation Sans"}, "encoding": {"x": {"datum": 191}, "y": {"datum": 15.2}}}
   ]},
  {"width": 298, "height": 110, "data": {"name": "L2"},
   "layer": [
    {"mark": {"type": "line", "color": "#dc9adc", "strokeWidth": 1.2},
     "encoding": {"x": {"field": "t", "type": "quantitative", "scale": {"domain": [0, 200]}, "axis": {"values": [0, 50, 100, 150, 200], "title": null, "labelFontSize": 12.5, "labelOverlap": false}},
                  "y": {"field": "r", "type": "quantitative", "scale": {"domain": [0, 20]}, "axis": {"values": [0, 5, 10, 15, 20], "title": "Distance(Å)", "titleFontSize": 22, "titleX": -35, "titleY": 123, "titleAngle": -90, "titleBaseline": "bottom", "titleAlign": "center", "labelFontSize": 12.5, "labelOverlap": false}}}},
    {"mark": {"type": "line", "color": "#800080", "strokeWidth": 2}, "encoding": {"x": {"field": "t", "type": "quantitative"}, "y": {"field": "m", "type": "quantitative"}}},
    {"data": {"values": [{}]}, "mark": {"type": "rule", "color": "#000", "strokeDash": [4, 3], "strokeWidth": 1}, "encoding": {"y": {"datum": 4}}},
    {"data": {"values": [{}]}, "mark": {"type": "text", "text": "POPI(L2)", "align": "right", "baseline": "alphabetic", "fontSize": 21, "font": "Liberation Sans"}, "encoding": {"x": {"datum": 191}, "y": {"datum": 15.2}}}
   ]},
  {"width": 298, "height": 110, "data": {"name": "L3"},
   "layer": [
    {"mark": {"type": "line", "color": "#ffdab0", "strokeWidth": 1.2},
     "encoding": {"x": {"field": "t", "type": "quantitative", "scale": {"domain": [0, 200]}, "axis": {"values": [0, 50, 100, 150, 200], "title": null, "labelFontSize": 12.5, "labelOverlap": false}},
                  "y": {"field": "r", "type": "quantitative", "scale": {"domain": [0, 20]}, "axis": {"values": [0, 5, 10, 15, 20], "title": null, "labelFontSize": 12.5, "labelOverlap": false}}}},
    {"mark": {"type": "line", "color": "#ff1493", "strokeWidth": 2}, "encoding": {"x": {"field": "t", "type": "quantitative"}, "y": {"field": "m", "type": "quantitative"}}},
    {"data": {"values": [{}]}, "mark": {"type": "rule", "color": "#000", "strokeDash": [4, 3], "strokeWidth": 1}, "encoding": {"y": {"datum": 4}}},
    {"data": {"values": [{}]}, "mark": {"type": "text", "text": "POPS(L3)", "align": "right", "baseline": "alphabetic", "fontSize": 21, "font": "Liberation Sans"}, "encoding": {"x": {"datum": 191}, "y": {"datum": 15.2}}}
   ]},
  {"width": 298, "height": 110, "data": {"name": "L4"},
   "layer": [
    {"mark": {"type": "line", "color": "#ffd8a8", "strokeWidth": 1.2},
     "encoding": {"x": {"field": "t", "type": "quantitative", "scale": {"domain": [0, 200]}, "axis": {"values": [0, 50, 100, 150, 200], "title": "Time (ns)", "titleFontSize": 14.5, "titlePadding": 2, "labelPadding": 1, "tickSize": 3.5, "labelFontSize": 12.5, "labelOverlap": false}},
                  "y": {"field": "r", "type": "quantitative", "scale": {"domain": [0, 20]}, "axis": {"values": [0, 5, 10, 15, 20], "title": null, "labelFontSize": 12.5, "labelOverlap": false}}}},
    {"mark": {"type": "line", "color": "#ffa500", "strokeWidth": 2}, "encoding": {"x": {"field": "t", "type": "quantitative"}, "y": {"field": "m", "type": "quantitative"}}},
    {"data": {"values": [{}]}, "mark": {"type": "rule", "color": "#000", "strokeDash": [4, 3], "strokeWidth": 1}, "encoding": {"y": {"datum": 4}}},
    {"data": {"values": [{}]}, "mark": {"type": "text", "text": "CHL(L4)", "align": "right", "baseline": "alphabetic", "fontSize": 21, "font": "Liberation Sans"}, "encoding": {"x": {"datum": 191}, "y": {"datum": 15.2}}}
   ]}
 ], "spacing": 25, "bounds": "flush"}
]
}
